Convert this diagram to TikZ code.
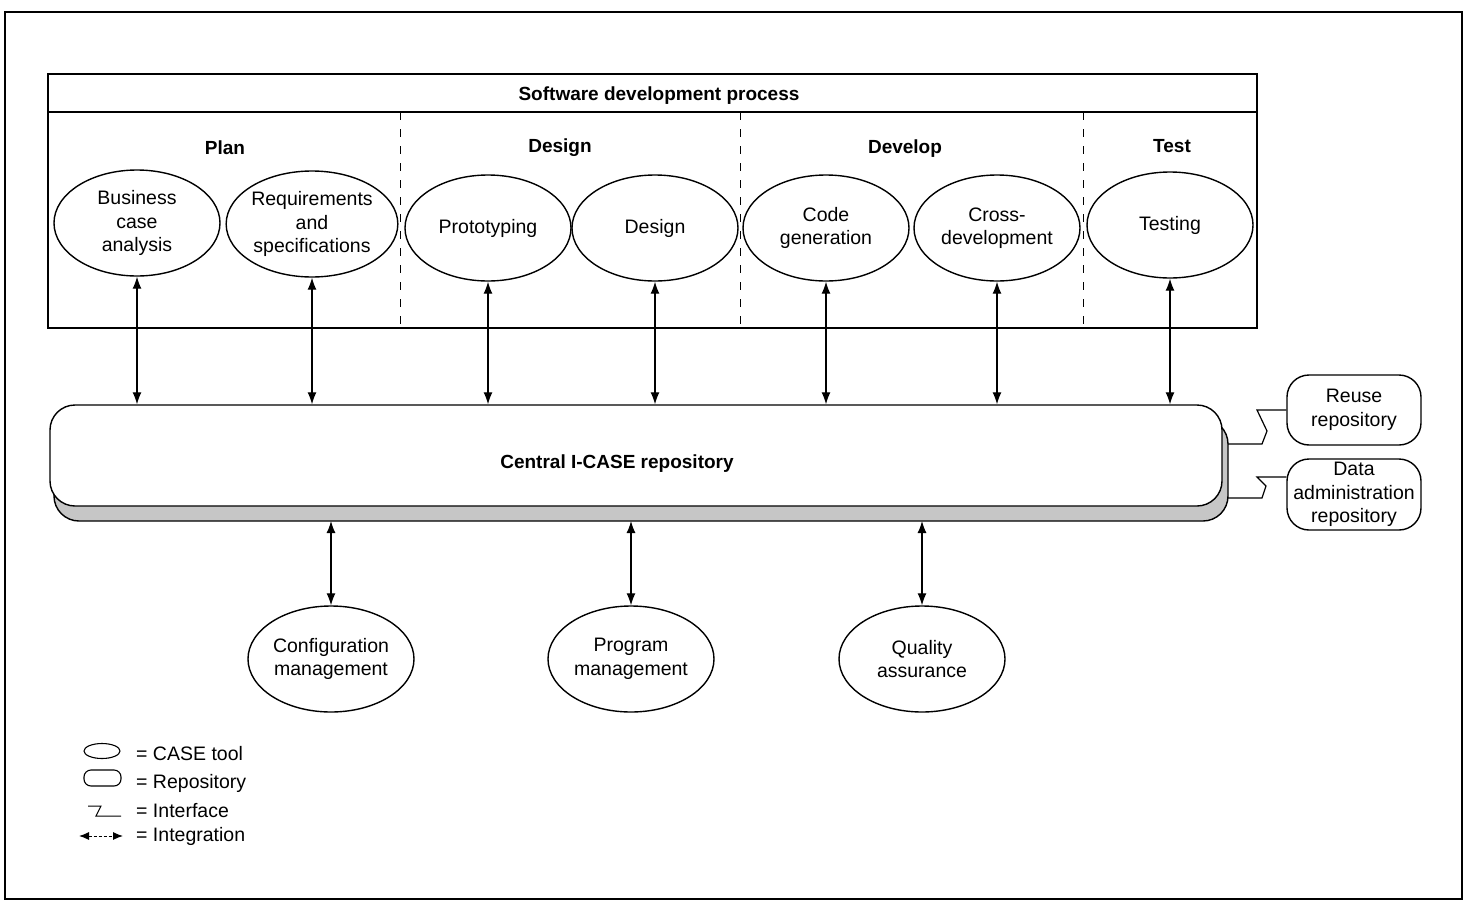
\documentclass[tikz,border=0pt]{standalone}
\usepackage{fontspec}
\setmainfont{Liberation Sans}
\usetikzlibrary{shapes.geometric,arrows.meta}
\begin{document}
\begin{tikzpicture}[x=1pt,y=-1pt,
  txt/.style={font=\fontsize{19.5}{23.5}\selectfont},
  tool/.style={ellipse,draw,line width=1.4pt,minimum width=166pt,minimum height=106pt,inner sep=0pt,align=center,txt},
  lbl/.style={font=\bfseries\fontsize{19}{23}\selectfont,inner sep=0pt},
  repobox/.style={draw,line width=1.4pt,rounded corners=22pt,minimum width=134pt,minimum height=71pt,align=center,inner sep=0pt,txt},
  integ/.style={line width=1.2pt,{Latex[length=12pt,width=9pt]}-{Latex[length=12pt,width=9pt]}},
  sep/.style={dash pattern=on 8pt off 9pt,line width=1pt},
  iface/.style={line width=1.2pt},
  legtxt/.style={anchor=west,inner sep=0pt,txt}
]
\useasboundingbox (0,0) rectangle (1467,902);
% outer frame
\draw[line width=2pt] (5,12) rectangle (1462,899);
% process box
\draw[line width=1.4pt] (48,74) rectangle (1257,328);
\draw[line width=1.4pt] (48,112) -- (1257,112);
\node[lbl] (hdr) at (659,96) {Software development process};
\draw[sep] (400,112) -- (400,328);
\draw[sep] (740,112) -- (740,328);
\draw[sep] (1083,112) -- (1083,328);
\node[lbl] (plan) at (225,148) {Plan};
\node[lbl] (design) at (560,148) {Design};
\node[lbl] (develop) at (905,149) {Develop};
\node[lbl] (test) at (1172,146) {Test};
% tools
\node[tool] (bca) at (137,223) {Business\\case\\analysis};
\node[tool] (req) at (312,224) {Requirements\\and\\specifications};
\node[tool] (pro) at (488,228) {Prototyping};
\node[tool] (des) at (655,228) {Design};
\node[tool] (cg) at (826,228) {Code\\generation};
\node[tool] (cd) at (997,228) {Cross-\\development};
\node[tool] (tst) at (1170,225) {Testing};
% repository with shadow
\filldraw[line width=1.4pt,fill=gray!45,rounded corners=25pt] (54,419) rectangle (1228,521);
\node[draw,fill=white,line width=1.4pt,rounded corners=25pt,minimum width=1172pt,minimum height=101pt,inner sep=0pt] (rep) at (636,455.5) {};
\node[lbl] (replbl) at (617,464) {Central I-CASE repository};
\coordinate (shb) at (636,521);
% integration arrows top
\foreach \n in {bca,req,pro,des,cg,cd,tst}
  \draw[integ] (\n.south) -- (\n.south |- rep.north);
% bottom tools
\node[tool] (cm) at (331,659) {Configuration\\management};
\node[tool] (pm) at (631,659) {Program\\management};
\node[tool] (qa) at (922,659) {Quality\\assurance};
\foreach \n in {cm,pm,qa}
  \draw[integ] (\n.north) -- (\n.north |- shb);
% side repositories
\node[repobox,minimum height=70pt] (reuse) at (1354,410) {Reuse\\repository};
\node[repobox] (data) at (1354,494.5) {Data\\administration\\repository};
\coordinate (if1) at (1228,444);
\coordinate (if2) at (1228,498);
\draw[iface] (if1) -- (1262,444) -- (1267,431) -- (1257,410) -- (reuse.west);
\draw[iface] (if2) -- (1262,498) -- (1266,486) -- (1257,477) -- ([yshift=17.5pt]data.west);
% legend
\draw[line width=1.1pt] (102,751) ellipse (18 and 7.5);
\draw[line width=1.1pt,rounded corners=7pt] (84,770) rectangle (121,786);
\draw[line width=1pt] (88,806) -- (101,806) -- (96,816) -- (121,816);
\draw[line width=1pt,dash pattern=on 3pt off 2pt,{Latex[length=10pt,width=8pt]}-{Latex[length=10pt,width=8pt]}] (79,836) -- (123,836);
\node[legtxt] (l1) at (136,754) {= CASE tool};
\node[legtxt] (l2) at (136,783) {= Repository};
\node[legtxt] (l3) at (136,811) {= Interface};
\node[legtxt] (l4) at (136,836) {= Integration};
\end{tikzpicture}
\end{document}
